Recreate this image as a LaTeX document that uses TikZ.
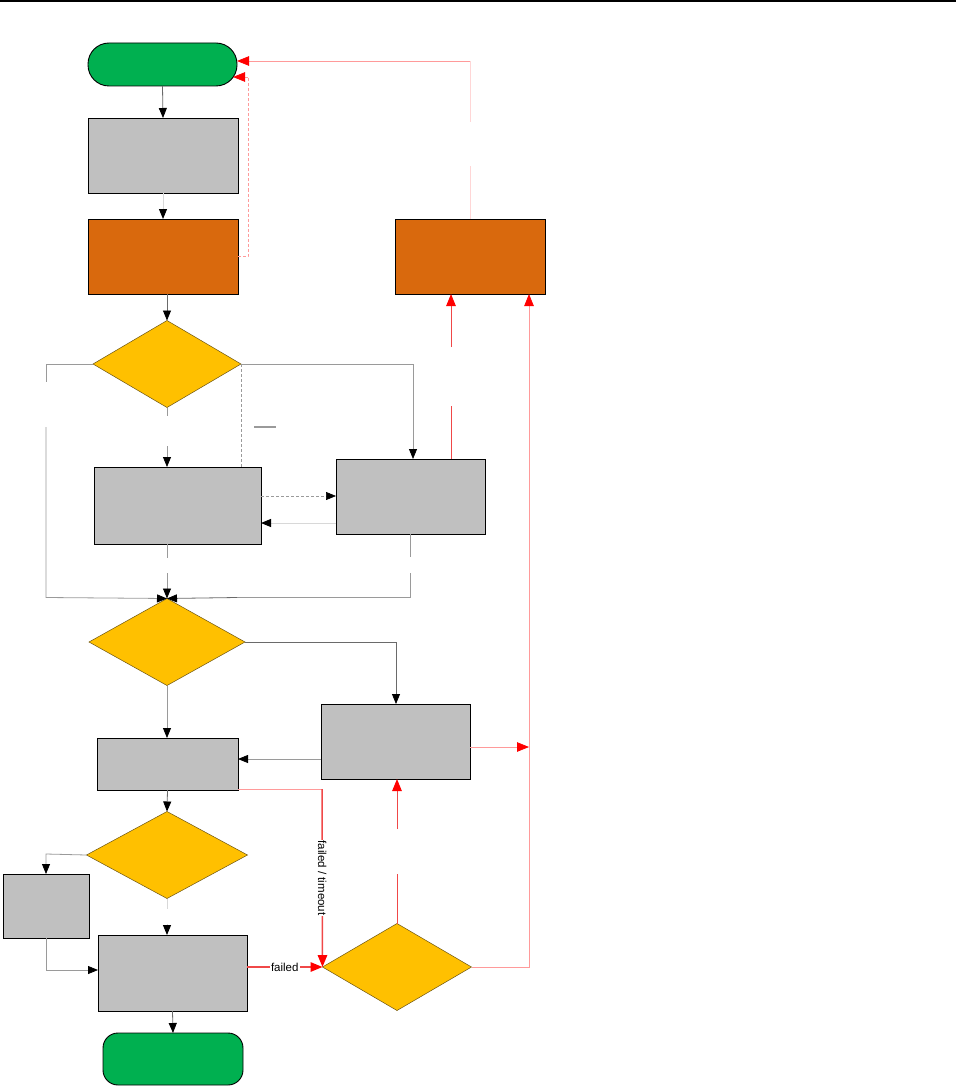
\documentclass[tikz,border=0pt]{standalone}
\usepackage{fontspec}
\setmainfont{Liberation Sans}
\usetikzlibrary{shapes.geometric,arrows.meta,calc}
\definecolor{termgreen}{HTML}{00B050}
\definecolor{boxgray}{HTML}{C0C0C0}
\definecolor{boxorange}{HTML}{D9690D}
\definecolor{decyellow}{HTML}{FFC000}
\definecolor{decedge}{HTML}{6B5413}
\definecolor{lnmid}{HTML}{9A9A9A}
\definecolor{lndark}{HTML}{6A6A6A}
\definecolor{lnlight}{HTML}{D8D8D8}
\definecolor{pinkln}{HTML}{FF9A9A}
\definecolor{palepink}{HTML}{FFD6D6}
\definecolor{redln}{HTML}{F04848}
\begin{document}
\begin{tikzpicture}[x=1pt,y=-1pt,
  every node/.style={inner sep=0pt, outer sep=0pt},
  procbox/.style={draw=black, line width=0.9pt, fill=boxgray, minimum width=#1},
  orangebox/.style={draw=black, line width=0.9pt, fill=boxorange, minimum width=150pt, minimum height=75pt},
  termbox/.style={draw=black, line width=0.9pt, fill=termgreen},
  decbox/.style={diamond, draw=decedge, line width=0.5pt, fill=decyellow},
  blk/.style={-{Triangle[length=10pt,width=8pt,color=black]}},
  rd/.style={-{Triangle[length=12pt,width=9.5pt,color=red]}},
  cmid/.style={draw=lnmid, line width=0.8pt},
  cdark/.style={draw=lndark, line width=0.8pt},
  clight/.style={draw=lnlight, line width=1pt},
  cdash/.style={draw=lnmid, line width=0.7pt, dashed, dash pattern=on 3pt off 2pt},
  cpink/.style={draw=pinkln, line width=0.8pt},
  cpale/.style={draw=palepink, line width=1pt},
  cred/.style={draw=redln, line width=1pt},
  cthick/.style={draw=redln, line width=1.5pt},
  lbl/.style={fill=white, font=\fontsize{11.5}{13}\selectfont, inner sep=1pt}
]
\useasboundingbox (0,0) rectangle (961,1086);
\draw[line width=2pt] (0,1) -- (956,1);

% nodes
\node[termbox, rounded corners=21pt, minimum width=149pt, minimum height=43pt] (start) at (162.5,64.5) {};
\node[procbox=150pt, minimum height=75pt] (g1) at (163,155.5) {};
\node[orangebox] (o1) at (163,256.5) {};
\node[orangebox] (o2) at (470,256.5) {};
\node[decbox, minimum width=148pt, minimum height=87pt] (d1) at (167,364) {};
\node[procbox=167pt, minimum height=77pt] (g2) at (177.5,505.5) {};
\node[procbox=149pt, minimum height=75pt] (g3) at (410.5,496.5) {};
\node[decbox, minimum width=156pt, minimum height=87pt] (d2) at (167,642) {};
\node[procbox=141pt, minimum height=52pt] (g4) at (167.5,764) {};
\node[procbox=149pt, minimum height=75pt] (g5) at (395.5,741.5) {};
\node[decbox, minimum width=161pt, minimum height=87pt] (d4) at (167,855) {};
\node[procbox=86pt, minimum height=64pt] (g6) at (46,906) {};
\node[procbox=149pt, minimum height=76pt] (g7) at (172.5,973) {};
\node[termbox, rounded corners=15pt, minimum width=140pt, minimum height=52pt] (end) at (173,1059) {};
\node[decbox, minimum width=149pt, minimum height=87pt] (d3) at (397,967) {};

% helper coordinates
\coordinate (sA) at (233,77);
\coordinate (sB) at (237,61);

% top part
\draw[cdark, blk] (start.south) -- (g1.north);
\draw[clight, blk] (g1.south) -- (o1.north);
\draw[cdark, blk] (d1.north |- o1.south) -- (d1.north);
\draw[cpink, densely dashed, rd] ($(o1.east)+(0,0)$) -- (248,256.5) -- (248,77) -- (sA);
\draw[cpale] (o2.north) -- (470,166);
\draw[cpale] (470,122) -- (470,61);
\draw[cpink, rd] (470,61) -- (sB);

% decision 1
\draw[cmid] (d1.west) -- (46,364) -- (46,382);
\draw[cmid, blk] (46,427) -- (46,597.5) -- (d2.north);
\draw[cmid] (d1.south) -- (167,416);
\draw[cmid, blk] (167,446) -- (d1.south |- g2.north);
\draw[cdash] (d1.east) -- (d1.east |- g2.north);
\draw[cmid, blk] (d1.east) -- (413,364) -- (413,364 |- g3.north);
\draw[draw=lnmid, line width=2pt] (254,427) -- (276,427);
\draw[cdash, blk] (g2.east |- 0,496) -- (g3.west |- 0,496);
\draw[clight, blk] (g3.west |- 0,523) -- (g2.east |- 0,523);
\draw[cred] (451,459) -- (451,406);
\draw[cred, rd] (451,347) -- (451,294);
\draw[cmid] (410,534) -- (410,557);
\draw[cmid] (410,573) -- (410,597.5) -- (237,597.5);
\draw[cdark, blk] (237,597.5) -- (d2.north);
\draw[cmid] (167,544) -- (167,558);
\draw[cmid, blk] (167,573) -- (d2.north);

% decision 2
\draw[cdark, blk] (d2.east) -- (396,642) -- (396,642 |- g5.north);
\draw[cmid, blk] (d2.south) -- (d2.south |- g4.north);
\draw[cmid, blk] (g5.west |- 0,759) -- (g4.east |- 0,759);
\draw[cpink, rd] (g5.east |- 0,747) -- (529,747);
\draw[cpink, rd] (d3.east) -- (529,967) -- (529,294);

% failed / timeout
\draw[cpink] (238,789) -- (322,789);
\draw[cthick, rd] (322,789) -- node[lbl, rotate=-90] {failed / timeout} (d3.west);

% decision 4
\draw[cdark, blk] (g4.south) -- (d4.north);
\draw[cmid, blk] (d4.west) -- (46,854) -- (g6.north);
\draw[cmid, blk] (g6.south) -- (46,970) -- (g7.west |- 0,970);
\draw[clight] (d4.south) -- (167,909);
\draw[clight, blk] (167,924) -- (167,924 |- g7.north);
\draw[cthick, rd] (g7.east |- d3.west) -- node[lbl] {failed} (d3.west);
\draw[cdark, blk] (g7.south) -- (end.north);
\draw[cred] (d3.north) -- (397,874);
\draw[cred, rd] (397,829) -- (397,829 |- g5.south);
\end{tikzpicture}
\end{document}
